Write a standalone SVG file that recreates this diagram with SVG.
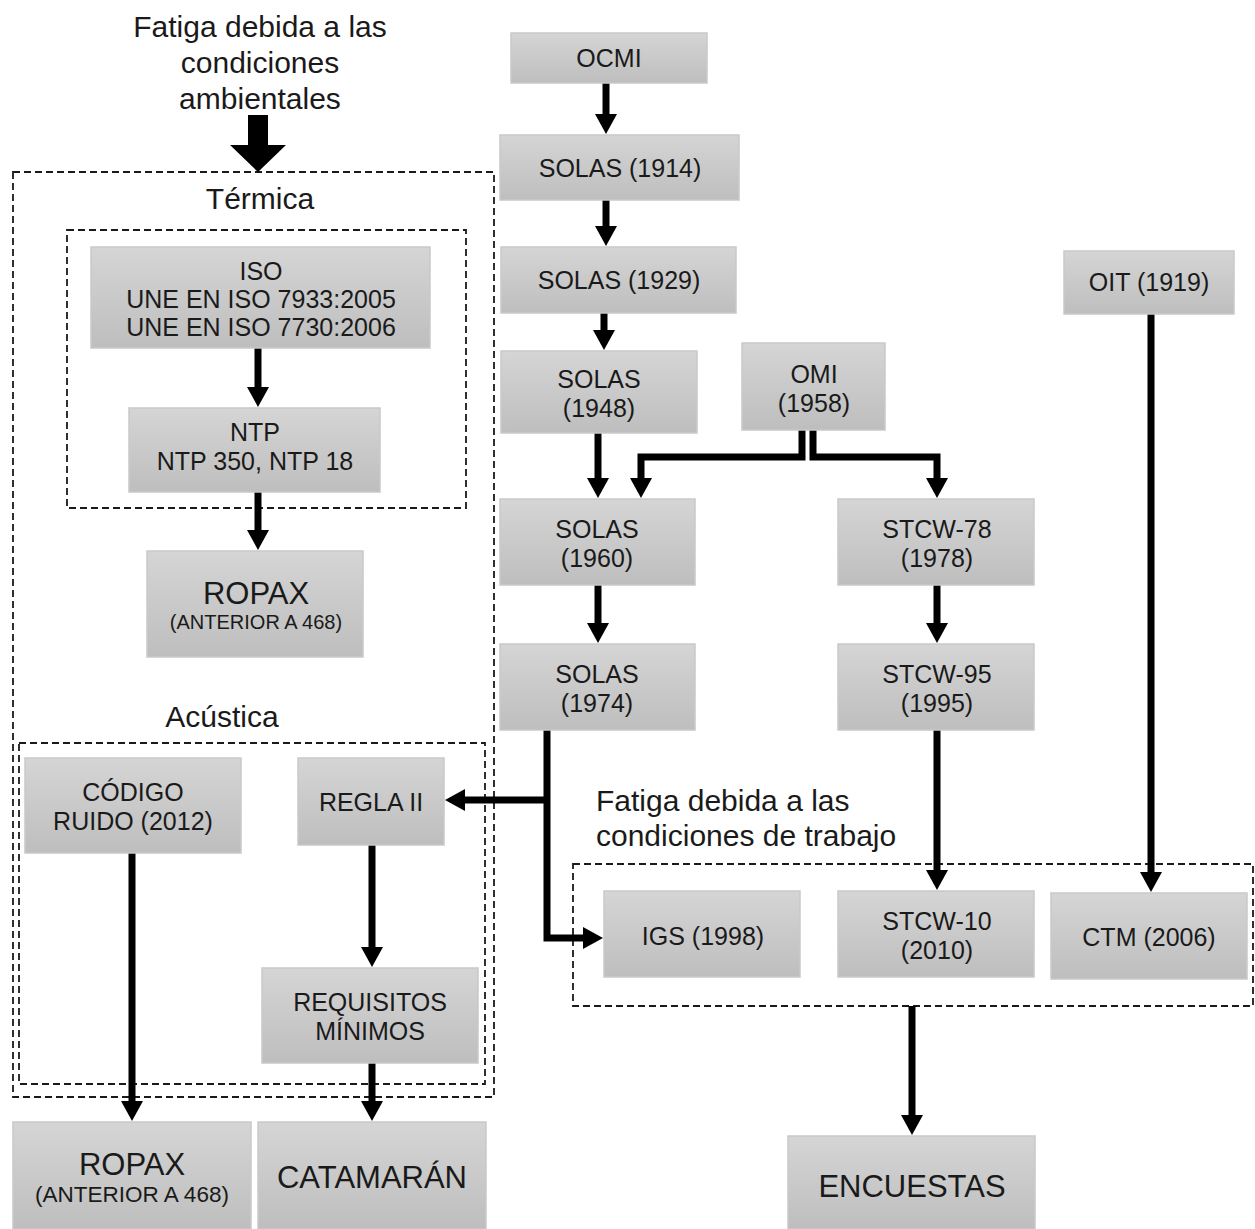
<svg xmlns="http://www.w3.org/2000/svg" width="1255" height="1229" viewBox="0 0 1255 1229">
<defs>
<linearGradient id="g" x1="0" y1="0" x2="0" y2="1">
<stop offset="0" stop-color="#d5d5d5"/>
<stop offset="1" stop-color="#bebebe"/>
</linearGradient>
<marker id="ah" markerUnits="userSpaceOnUse" viewBox="0 0 20 22" refX="1" refY="11" markerWidth="20" markerHeight="22" orient="auto">
<path d="M0,0 L20,11 L0,22 z" fill="#000"/>
</marker>
</defs>
<style>
.b{fill:url(#g);stroke:#c9c9c9;stroke-width:1.5}
.t{font-family:"Liberation Sans",Arial,sans-serif;font-size:25px;fill:#1a1a1a;text-anchor:middle}
.big{font-size:31px}
.sm{font-size:20px}
.sm2{font-size:22.5px}
.lab{font-family:"Liberation Sans",Arial,sans-serif;font-size:30px;fill:#1a1a1a}
.d{fill:none;stroke:#1a1a1a;stroke-width:1.8;stroke-dasharray:7 4}
.c{fill:none;stroke:#000;stroke-width:7;marker-end:url(#ah)}
</style>
<rect width="1255" height="1229" fill="#fff"/>

<g id="groups">
<rect class="d" x="13" y="172" width="481" height="925"/>
<rect class="d" x="67" y="230" width="399" height="278"/>
<rect class="d" x="19" y="743" width="466" height="341"/>
<rect class="d" x="573" y="864" width="680" height="142"/>
</g>

<g id="labels">
<text class="lab" x="260" y="37" text-anchor="middle">Fatiga debida a las</text>
<text class="lab" x="260" y="73" text-anchor="middle">condiciones</text>
<text class="lab" x="260" y="109" text-anchor="middle">ambientales</text>
<text class="lab" x="260" y="209" text-anchor="middle">Térmica</text>
<text class="lab" x="222" y="727" text-anchor="middle">Acústica</text>
<text class="lab" x="596" y="811">Fatiga debida a las</text>
<text class="lab" x="596" y="846">condiciones de trabajo</text>
</g>

<g id="connectors">
<polygon points="248,115 268,115 268,145 286,145 258,172 230,145 248,145" fill="#000"/>
<path class="c" d="M606,83 V115"/>
<path class="c" d="M606,200 V227"/>
<path class="c" d="M604,313 V331"/>
<path class="c" d="M598,433 V479"/>
<path class="c" d="M802,430 V457 H641 V479"/>
<path class="c" d="M813,430 V457 H937 V479"/>
<path class="c" d="M598,585 V624"/>
<path class="c" d="M937,585 V624"/>
<path class="c" d="M937,730 V871"/>
<path class="c" d="M1151,314 V873"/>
<path class="c" d="M547,730 V938 H584"/>
<path class="c" d="M547,800 H464"/>
<path class="c" d="M258,348 V388"/>
<path class="c" d="M258,492 V531"/>
<path class="c" d="M132,853 V1102"/>
<path class="c" d="M372,845 V948"/>
<path class="c" d="M372,1063 V1102"/>
<path class="c" d="M912,1006 V1116"/>
</g>

<g id="n-ocmi"><rect class="b" x="511" y="33" width="196" height="50"/><text class="t" x="609" y="67">OCMI</text></g>
<g id="n-solas1914"><rect class="b" x="500" y="135" width="239" height="65"/><text class="t" x="620" y="177">SOLAS (1914)</text></g>
<g id="n-solas1929"><rect class="b" x="501" y="247" width="235" height="66"/><text class="t" x="619" y="289">SOLAS (1929)</text></g>
<g id="n-solas1948"><rect class="b" x="501" y="351" width="196" height="82"/><text class="t" x="599" y="388">SOLAS</text><text class="t" x="599" y="417">(1948)</text></g>
<g id="n-omi"><rect class="b" x="742" y="343" width="143" height="87"/><text class="t" x="814" y="383">OMI</text><text class="t" x="814" y="412">(1958)</text></g>
<g id="n-solas1960"><rect class="b" x="500" y="499" width="195" height="86"/><text class="t" x="597" y="538">SOLAS</text><text class="t" x="597" y="567">(1960)</text></g>
<g id="n-stcw78"><rect class="b" x="838" y="499" width="196" height="86"/><text class="t" x="937" y="538">STCW-78</text><text class="t" x="937" y="567">(1978)</text></g>
<g id="n-solas1974"><rect class="b" x="500" y="644" width="195" height="86"/><text class="t" x="597" y="683">SOLAS</text><text class="t" x="597" y="712">(1974)</text></g>
<g id="n-stcw95"><rect class="b" x="838" y="644" width="196" height="86"/><text class="t" x="937" y="683">STCW-95</text><text class="t" x="937" y="712">(1995)</text></g>
<g id="n-oit"><rect class="b" x="1064" y="251" width="170" height="63"/><text class="t" x="1149" y="291">OIT (1919)</text></g>
<g id="n-igs"><rect class="b" x="604" y="891" width="196" height="86"/><text class="t" x="703" y="945">IGS (1998)</text></g>
<g id="n-stcw10"><rect class="b" x="838" y="891" width="196" height="86"/><text class="t" x="937" y="930">STCW-10</text><text class="t" x="937" y="959">(2010)</text></g>
<g id="n-ctm"><rect class="b" x="1051" y="893" width="196" height="86"/><text class="t" x="1149" y="946">CTM (2006)</text></g>
<g id="n-encuestas"><rect class="b" x="788" y="1136" width="247" height="93"/><text class="t big" x="912" y="1197">ENCUESTAS</text></g>
<g id="n-iso"><rect class="b" x="91" y="247" width="339" height="101"/><text class="t" x="261" y="280">ISO</text><text class="t" x="261" y="308">UNE EN ISO 7933:2005</text><text class="t" x="261" y="336">UNE EN ISO 7730:2006</text></g>
<g id="n-ntp"><rect class="b" x="129" y="408" width="251" height="84"/><text class="t" x="255" y="441">NTP</text><text class="t" x="255" y="470">NTP 350, NTP 18</text></g>
<g id="n-ropax1"><rect class="b" x="147" y="551" width="216" height="106"/><text class="t big" x="256" y="604">ROPAX</text><text class="t sm" x="256" y="629">(ANTERIOR A 468)</text></g>
<g id="n-codigo"><rect class="b" x="25" y="758" width="216" height="95"/><text class="t" x="133" y="801">CÓDIGO</text><text class="t" x="133" y="830">RUIDO (2012)</text></g>
<g id="n-regla"><rect class="b" x="298" y="758" width="146" height="87"/><text class="t" x="371" y="811">REGLA II</text></g>
<g id="n-requisitos"><rect class="b" x="262" y="968" width="216" height="95"/><text class="t" x="370" y="1011">REQUISITOS</text><text class="t" x="370" y="1040">MÍNIMOS</text></g>
<g id="n-ropax2"><rect class="b" x="13" y="1122" width="238" height="107"/><text class="t big" x="132" y="1175">ROPAX</text><text class="t sm2" x="132" y="1202">(ANTERIOR A 468)</text></g>
<g id="n-catamaran"><rect class="b" x="258" y="1122" width="228" height="107"/><text class="t big" x="372" y="1188">CATAMARÁN</text></g>
</svg>
